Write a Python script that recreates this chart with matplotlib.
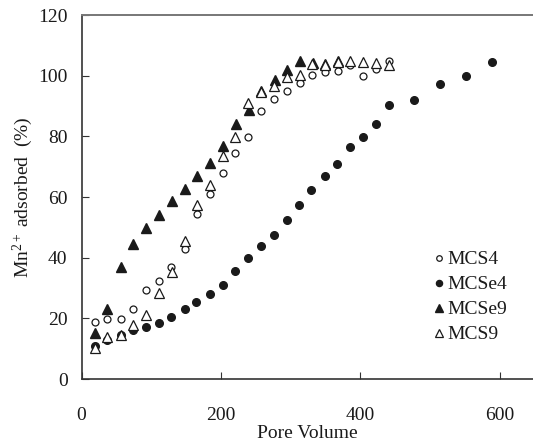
import numpy as np
import matplotlib
matplotlib.use('Agg')
import matplotlib.pyplot as plt

plt.rcParams['font.family'] = ['Liberation Serif', 'DejaVu Serif']
plt.rcParams['mathtext.fontset'] = 'custom'
plt.rcParams['mathtext.rm'] = 'Liberation Serif'
plt.rcParams['mathtext.it'] = 'Liberation Serif:italic'

# Pore volume positions and % Mn2+ adsorbed
x_mcs4 = [19, 37, 56, 74, 93, 111, 129, 148, 166, 185, 203, 221, 239, 258, 276, 295, 313, 331, 349, 368, 386, 404, 422, 441]
y_mcs4 = [18.9, 19.8, 19.9, 23.0, 29.5, 32.4, 36.8, 42.8, 54.3, 61.0, 68.0, 74.4, 79.7, 88.3, 92.4, 95.0, 97.5, 100.1, 101.2, 101.7, 103.5, 99.9, 102.3, 105.0]

x_mcse4 = [19, 37, 56, 74, 93, 111, 129, 148, 165, 184, 203, 220, 239, 258, 276, 295, 312, 330, 349, 367, 386, 404, 422, 441, 477, 514, 552, 589]
y_mcse4 = [11.0, 12.9, 14.5, 16.2, 17.2, 18.6, 20.4, 23.0, 25.3, 28.1, 31.0, 35.7, 40.0, 44.0, 47.4, 52.3, 57.5, 62.4, 67.0, 71.0, 76.5, 79.8, 84.2, 90.2, 92.0, 97.3, 99.9, 104.4]

x_mcse9 = [19, 37, 56, 74, 93, 111, 130, 148, 166, 185, 203, 222, 240, 258, 277, 295, 313, 332, 350, 368]
y_mcse9 = [15.3, 23.0, 36.8, 44.4, 49.9, 54.1, 58.7, 62.6, 67.0, 71.3, 76.8, 84.1, 88.7, 95.0, 98.6, 102.0, 104.8, 104.3, 103.8, 105.0]

x_mcs9 = [19, 37, 56, 74, 93, 111, 130, 148, 166, 185, 203, 221, 239, 258, 276, 295, 313, 331, 350, 368, 386, 404, 422, 441]
y_mcs9 = [10.1, 13.9, 14.5, 17.8, 21.1, 28.2, 35.4, 45.6, 57.4, 64.0, 73.5, 79.9, 91.1, 94.5, 96.5, 99.7, 100.3, 103.8, 103.5, 104.5, 104.9, 104.5, 104.3, 103.5]

W, H = 533, 445
fig = plt.figure(figsize=(W / 100, H / 100), dpi=100)
ax = fig.add_axes([81.5 / W, (H - 379) / H, (W - 81.5) / W, 364 / H])

ink = '#1a1a1a'
ax.plot(x_mcs4, y_mcs4, 'o', mfc='white', mec=ink, mew=0.9, ms=5, ls='none', label='MCS4')
ax.plot(x_mcse4, y_mcse4, 'o', mfc=ink, mec=ink, ms=5.5, ls='none', label='MCSe4')
ax.plot(x_mcse9, y_mcse9, '^', mfc=ink, mec=ink, ms=7, ls='none', label='MCSe9')
ax.plot(x_mcs9, y_mcs9, '^', mfc='white', mec=ink, mew=0.9, ms=7, ls='none', label='MCS9')

ax.set_xlim(0, 648)
ax.set_ylim(0, 120)
ax.set_xticks([0, 200, 400, 600])
ax.set_yticks(np.arange(0, 121, 20))
ax.spines['right'].set_visible(False)
ax.spines['top'].set_color('#777777')
ax.spines['top'].set_linewidth(1.4)
for s in ['left', 'bottom']:
    ax.spines[s].set_color('#333333')
    ax.spines[s].set_linewidth(1.2)
ax.tick_params(axis='x', direction='in', length=5, pad=20, labelsize=14, colors='#333333', labelcolor=ink)
ax.tick_params(axis='y', direction='in', length=5, pad=10, labelsize=14, colors='#333333', labelcolor=ink)

ax.set_xlabel('Pore Volume', fontsize=14, color=ink, labelpad=1)
ax.set_ylabel(r'Mn$^{\mathrm{2+}}$ adsorbed  (%)', fontsize=14, color=ink, labelpad=2)

leg = ax.legend(loc='upper left', bbox_to_anchor=((423 - 81.5) / (W - 81.5), (379 - 241) / 364),
                frameon=False, fontsize=14, handlelength=0.6, handletextpad=0.15,
                labelspacing=0.38, borderpad=0, markerscale=0.8)
for t in leg.get_texts():
    t.set_color(ink)

fig.savefig('out.png', dpi=100)
